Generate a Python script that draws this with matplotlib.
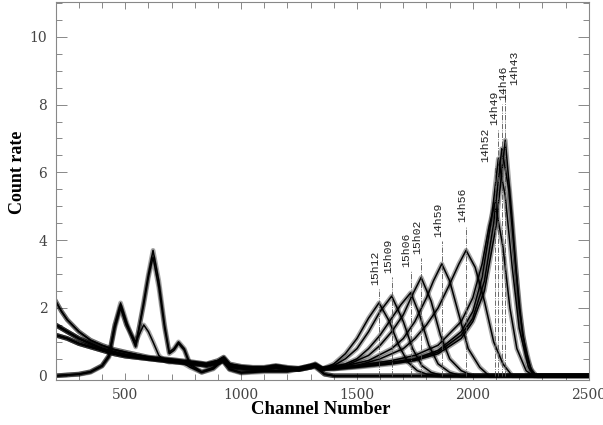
import matplotlib
matplotlib.use("Agg")
import matplotlib.pyplot as plt
from matplotlib.ticker import MultipleLocator

# low-channel continuum shared by the drifting spectra (three levels)
cont_ch = [200, 225, 250, 300, 350, 400, 450, 500, 600, 700, 800, 850, 900, 925, 950,
           1000, 1050, 1100, 1150, 1200, 1250, 1300, 1320, 1350]
cont_a = [2.2, 1.9, 1.65, 1.3, 1.05, 0.9, 0.78, 0.7, 0.55, 0.48, 0.4, 0.35, 0.45, 0.55, 0.35,
          0.28, 0.25, 0.25, 0.3, 0.25, 0.22, 0.3, 0.35, 0.22]
cont_b = [1.5, 1.4, 1.3, 1.1, 0.95, 0.8, 0.7, 0.62, 0.52, 0.45, 0.37, 0.33, 0.4, 0.5, 0.3,
          0.25, 0.22, 0.22, 0.28, 0.22, 0.2, 0.28, 0.32, 0.2]
cont_c = [1.2, 1.15, 1.1, 0.95, 0.85, 0.75, 0.65, 0.58, 0.5, 0.42, 0.35, 0.3, 0.38, 0.45, 0.28,
          0.22, 0.2, 0.2, 0.25, 0.2, 0.18, 0.25, 0.3, 0.2]

# high-channel part of each spectrum
p_15h12_ch = [1400, 1450, 1500, 1550, 1595, 1640, 1680, 1720, 1760, 1800, 1850, 2500]
p_15h12 = [0.35, 0.65, 1.1, 1.7, 2.15, 1.6, 0.9, 0.4, 0.15, 0.05, 0.0, 0.0]
p_15h09_ch = [1400, 1450, 1500, 1550, 1600, 1650, 1700, 1740, 1780, 1820, 1870, 2500]
p_15h09 = [0.3, 0.5, 0.8, 1.3, 1.9, 2.35, 1.6, 0.8, 0.3, 0.1, 0.0, 0.0]
p_15h06_ch = [1400, 1450, 1500, 1550, 1600, 1650, 1690, 1732, 1770, 1810, 1850, 1900, 1950, 2500]
p_15h06 = [0.28, 0.35, 0.5, 0.8, 1.2, 1.7, 2.1, 2.45, 1.8, 0.9, 0.35, 0.1, 0.0, 0.0]
p_15h02_ch = [1400, 1450, 1550, 1600, 1650, 1700, 1740, 1777, 1820, 1860, 1900, 1950, 2000, 2500]
p_15h02 = [0.25, 0.3, 0.6, 0.9, 1.3, 1.8, 2.4, 2.9, 2.2, 1.2, 0.5, 0.15, 0.0, 0.0]
p_14h59_ch = [1400, 1450, 1550, 1650, 1700, 1750, 1800, 1830, 1866, 1900, 1940, 1980, 2030, 2070, 2500]
p_14h59 = [0.25, 0.3, 0.45, 0.8, 1.1, 1.6, 2.3, 2.8, 3.3, 2.8, 1.8, 0.8, 0.25, 0.0, 0.0]
p_14h56_ch = [1400, 1500, 1600, 1700, 1750, 1800, 1850, 1900, 1940, 1971, 2010, 2050, 2090, 2130, 2170, 2500]
p_14h56 = [0.22, 0.3, 0.5, 0.8, 1.1, 1.5, 2.0, 2.7, 3.3, 3.7, 3.2, 2.2, 1.0, 0.35, 0.0, 0.0]
p_14h52_ch = [1400, 1500, 1650, 1750, 1850, 1950, 2000, 2040, 2070, 2096, 2130, 2160, 2190, 2230, 2260, 2500]
p_14h52 = [0.22, 0.3, 0.45, 0.6, 0.9, 1.6, 2.3, 3.3, 4.4, 5.1, 3.8, 2.0, 0.8, 0.15, 0.0, 0.0]
p_14h49_ch = [1400, 1500, 1650, 1750, 1850, 1950, 2000, 2040, 2080, 2110, 2140, 2170, 2200, 2240, 2265, 2500]
p_14h49 = [0.22, 0.28, 0.4, 0.5, 0.75, 1.3, 1.9, 2.9, 4.6, 6.4, 5.3, 3.2, 1.4, 0.25, 0.0, 0.0]
p_14h46_ch = [1400, 1500, 1650, 1750, 1850, 1950, 2000, 2050, 2090, 2125, 2155, 2185, 2215, 2250, 2275, 2500]
p_14h46 = [0.2, 0.27, 0.38, 0.48, 0.7, 1.2, 1.7, 2.8, 4.5, 6.7, 5.5, 3.2, 1.2, 0.2, 0.0, 0.0]
p_14h43_ch = [1400, 1500, 1650, 1750, 1850, 1950, 2000, 2050, 2100, 2140, 2170, 2200, 2230, 2260, 2280, 2500]
p_14h43 = [0.2, 0.25, 0.35, 0.45, 0.65, 1.1, 1.6, 2.5, 4.4, 6.95, 4.6, 2.0, 0.6, 0.05, 0.0, 0.0]

# spectra with the low-energy lines (near zero above channel 1400)
lo_ch = [200, 300, 350, 400, 430, 455, 480, 505, 545, 580, 600, 620, 645, 670, 690, 710, 730,
         755, 780, 830, 880, 920, 950, 1000, 1100, 1200, 1300, 1320, 1360, 1400, 2500]
lo_1 = [0.0, 0.05, 0.12, 0.3, 0.6, 1.5, 2.15, 1.6, 0.85, 2.2, 3.0, 3.7, 2.8, 1.5, 0.7, 0.8, 1.0,
        0.8, 0.35, 0.12, 0.25, 0.5, 0.2, 0.1, 0.15, 0.15, 0.3, 0.3, 0.05, 0.0, 0.0]
lo_2 = [0.0, 0.05, 0.12, 0.3, 0.6, 1.5, 2.05, 1.5, 1.0, 1.5, 1.3, 1.0, 0.6, 0.45, 0.4, 0.4, 0.4,
        0.35, 0.25, 0.1, 0.2, 0.45, 0.2, 0.1, 0.15, 0.15, 0.25, 0.25, 0.05, 0.0, 0.0]
lo_3 = [0.0, 0.04, 0.1, 0.28, 0.55, 1.4, 2.0, 1.5, 0.9, 2.1, 2.9, 3.5, 2.6, 1.4, 0.65, 0.75, 0.95,
        0.75, 0.3, 0.1, 0.22, 0.45, 0.18, 0.08, 0.12, 0.12, 0.28, 0.28, 0.04, 0.0, 0.0]

# time labels, peak channels, text positions
labels = ["15h12", "15h09", "15h06", "15h02", "14h59", "14h56", "14h52", "14h49", "14h46", "14h43"]
line_ch = [1595, 1650, 1732, 1777, 1866, 1971, 2096, 2110, 2125, 2140]
text_ch = [1578, 1633, 1712, 1762, 1850, 1953, 2055, 2093, 2132, 2178]
text_y = [2.68, 3.03, 3.2, 3.6, 4.09, 4.53, 6.3, 7.4, 8.13, 8.57]

peaks = [(p_15h12_ch, p_15h12, cont_c), (p_15h09_ch, p_15h09, cont_b),
         (p_15h06_ch, p_15h06, cont_c), (p_15h02_ch, p_15h02, cont_a),
         (p_14h59_ch, p_14h59, cont_b), (p_14h56_ch, p_14h56, cont_c),
         (p_14h52_ch, p_14h52, cont_b), (p_14h49_ch, p_14h49, cont_a),
         (p_14h46_ch, p_14h46, cont_c), (p_14h43_ch, p_14h43, cont_b)]

fig = plt.figure(figsize=(6.03, 4.25), dpi=100)
ax = fig.add_axes([55.7 / 603, 45.5 / 425, 533 / 603, 378 / 425])


def draw_spec(x, y):
    # wide faint stroke under a thin one gives the noisy band look
    ax.plot(x, y, color="black", lw=3.4, alpha=0.35, solid_joinstyle="round")
    ax.plot(x, y, color="black", lw=1.1)


for pch, pct, cont in peaks:
    draw_spec(cont_ch + pch, cont + pct)

for lo in (lo_1, lo_2, lo_3):
    draw_spec(lo_ch, lo)

for lab, lx, tx, ty in zip(labels, line_ch, text_ch, text_y):
    ax.plot([lx, lx], [0, ty - 0.12], color="#555555", lw=0.6, ls="-.")
    ax.text(tx, ty, lab, rotation=90, ha="center", va="bottom",
            fontsize=8.2, family="Liberation Mono", color="#222222")

ax.set_xlim(200, 2500)
ax.set_ylim(-0.11, 11.04)
ax.xaxis.set_major_locator(MultipleLocator(500))
ax.xaxis.set_minor_locator(MultipleLocator(100))
ax.yaxis.set_major_locator(MultipleLocator(2))
ax.yaxis.set_minor_locator(MultipleLocator(0.5))
ax.tick_params(which="both", direction="in", top=True, right=True, color="#888888", width=0.7)
ax.tick_params(axis="x", which="major", length=5)
ax.tick_params(axis="x", which="minor", length=4)
ax.tick_params(axis="y", which="major", length=8)
ax.tick_params(axis="y", which="minor", length=4.5)
ax.tick_params(axis="both", labelsize=10, labelcolor="#444444", pad=6)
for t in ax.get_xticklabels() + ax.get_yticklabels():
    t.set_family("DejaVu Serif")
for s in ax.spines.values():
    s.set_color("#888888")
    s.set_linewidth(0.8)

fig.text(321 / 603, 1 - 410 / 425, "Channel Number", ha="center", va="center",
         fontsize=13.5, fontweight="bold", family="Liberation Serif")
fig.text(18 / 603, 1 - 172 / 425, "Count rate", ha="center", va="center", rotation=90,
         fontsize=13, fontweight="bold", family="Liberation Serif")

fig.savefig("out.png", dpi=100)
